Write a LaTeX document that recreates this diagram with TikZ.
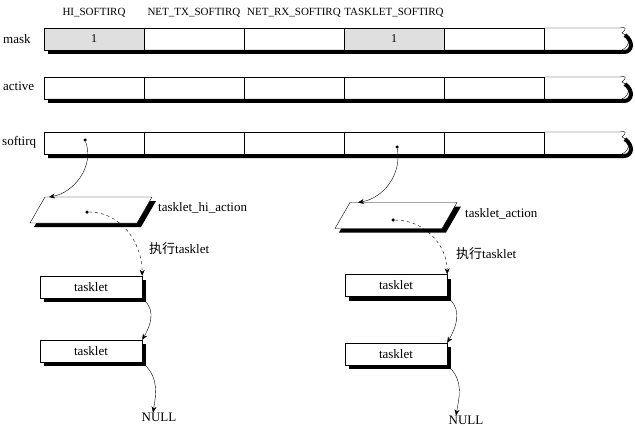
\documentclass[tikz,border=0pt]{standalone}
\usepackage{fontspec}
\setmainfont{Liberation Serif}
\newfontfamily\cjk{Noto Sans CJK SC}
\usetikzlibrary{arrows.meta, positioning, shadows}
\tikzstyle{cell} = [rectangle, draw=black, minimum width=100pt, minimum height=22pt, inner sep=0pt, outer sep=0pt, font=\fontsize{12}{13}\selectfont]
\tikzstyle{setcell} = [cell, fill=gray!25]
\tikzstyle{irq} = [inner sep=0pt, font=\fontsize{11}{12}\selectfont]
\tikzstyle{rowname} = [anchor=west, inner sep=0pt, font=\fontsize{13}{14}\selectfont]
\tikzstyle{txt} = [inner sep=0pt, font=\fontsize{13}{14}\selectfont]
\tikzstyle{bar} = [line width=4pt]
\tikzstyle{dot} = [circle, fill=black, inner sep=0pt, minimum size=3.5pt]
\tikzstyle{action} = [rectangle, xslant=0.577, transform shape, minimum width=107pt, minimum height=26pt, outer sep=0pt, draw=black, fill=white, drop shadow={shadow xshift=4pt, shadow yshift=-4pt, fill=black, opacity=1}]
\tikzstyle{task} = [rectangle, draw=black, fill=white, minimum width=102pt, minimum height=22pt, inner sep=0pt, font=\fontsize{13}{14}\selectfont, drop shadow={shadow xshift=4pt, shadow yshift=-4pt, fill=black, opacity=1}]
\tikzstyle{arrow} = [-{Stealth[length=6pt, width=5pt]}]
\tikzstyle{darrow} = [-{Stealth[length=6pt, width=5pt]}, dashed]

\begin{document}
\begin{tikzpicture}[x=1pt, y=-1pt]
\useasboundingbox (0,0) rectangle (635,428);

\draw[bar] (48,52) -- (624,52) .. controls (632,52) and (634,42) .. (625,35);
\draw[bar] (48,101) -- (624,101) .. controls (632,101) and (634,91) .. (625,84);
\draw[bar] (48,156) -- (624,156) .. controls (632,156) and (634,146) .. (625,139);

\node (m1) [setcell] at (94,39) {1};
\node (m2) [cell, right=0pt of m1] {};
\node (m3) [cell, right=0pt of m2] {};
\node (m4) [setcell, right=0pt of m3] {1};
\node (m5) [cell, right=0pt of m4] {};
\draw (m5.north east) -- (620,28) .. controls (626,26) and (627,29) .. (622,33) .. controls (630,36) and (631,46) .. (622,50);
\draw (m5.south east) -- (622,50);

\node (a1) [cell] at (94,88) {};
\node (a2) [cell, right=0pt of a1] {};
\node (a3) [cell, right=0pt of a2] {};
\node (a4) [cell, right=0pt of a3] {};
\node (a5) [cell, right=0pt of a4] {};
\draw (a5.north east) -- (620,77) .. controls (626,75) and (627,78) .. (622,82) .. controls (630,85) and (631,95) .. (622,99);
\draw (a5.south east) -- (622,99);

\node (s1) [cell] at (94,143) {};
\node (s2) [cell, right=0pt of s1] {};
\node (s3) [cell, right=0pt of s2] {};
\node (s4) [cell, right=0pt of s3] {};
\node (s5) [cell, right=0pt of s4] {};
\draw (s5.north east) -- (620,132) .. controls (626,130) and (627,133) .. (622,137) .. controls (630,140) and (631,150) .. (622,154);
\draw (s5.south east) -- (622,154);

\node (hi) [irq, above=11pt of m1] {HI\_SOFTIRQ};
\node (tx) [irq, above=11pt of m2] {NET\_TX\_SOFTIRQ};
\node (rx) [irq, above=11pt of m3] {NET\_RX\_SOFTIRQ};
\node (tl) [irq, above=11pt of m4] {TASKLET\_SOFTIRQ};

\node (lmask) [rowname] at (3,39) {mask};
\node (lactive) [rowname] at (3,86) {active};
\node (lsoftirq) [rowname] at (2,142) {softirq};

\node (p1) [action] at (91,210) {};
\node (p2) [action] at (396,215.5) {};
\node (hiact) [txt, anchor=west] at (158,208) {tasklet\_hi\_action};
\node (act) [txt, anchor=west] at (465,214) {tasklet\_action};

\node (t1) [task, below of=p1, node distance=77pt] {tasklet};
\node (t2) [task, below of=t1, node distance=64pt] {tasklet};
\node (t3) [task, below of=p2, node distance=70pt] {tasklet};
\node (t4) [task, below of=t3, node distance=68.5pt] {tasklet};
\node (n1) [txt] at (159,417) {NULL};
\node (n2) [txt] at (466,420) {NULL};

\node (run1) [txt, anchor=west] at (149,249) {{\cjk 执行}tasklet};
\node (run2) [txt, anchor=west] at (456,254) {{\cjk 执行}tasklet};

\node (d1) [dot] at (85,140) {};
\node (d2) [dot] at (397,147) {};
\node (d3) [dot] at (87,212) {};
\node (d4) [dot] at (393,220) {};

\draw [arrow] (d1) to[out=-70, in=10] ([xshift=4pt]p1.north west);
\draw [arrow] (d2) to[out=-80, in=10] ([xshift=8pt]p2.north west);
\draw [darrow] (d3) to[out=0, in=90] (t1.north east);
\draw [darrow] (d4) to[out=0, in=90] (t3.north east);
\draw [arrow] ([shift={(3pt,-3pt)}]t1.south east) to[out=-45, in=60] (t2.north east);
\draw [arrow] ([shift={(3pt,-3pt)}]t3.south east) to[out=-45, in=60] (t4.north east);
\draw [arrow] ([shift={(3pt,-3pt)}]t2.south east) to[out=-45, in=80] ([xshift=-6pt]n1.north);
\draw [arrow] ([shift={(3pt,-3pt)}]t4.south east) to[out=-45, in=80] ([xshift=-10pt]n2.north);
\end{tikzpicture}
\end{document}
